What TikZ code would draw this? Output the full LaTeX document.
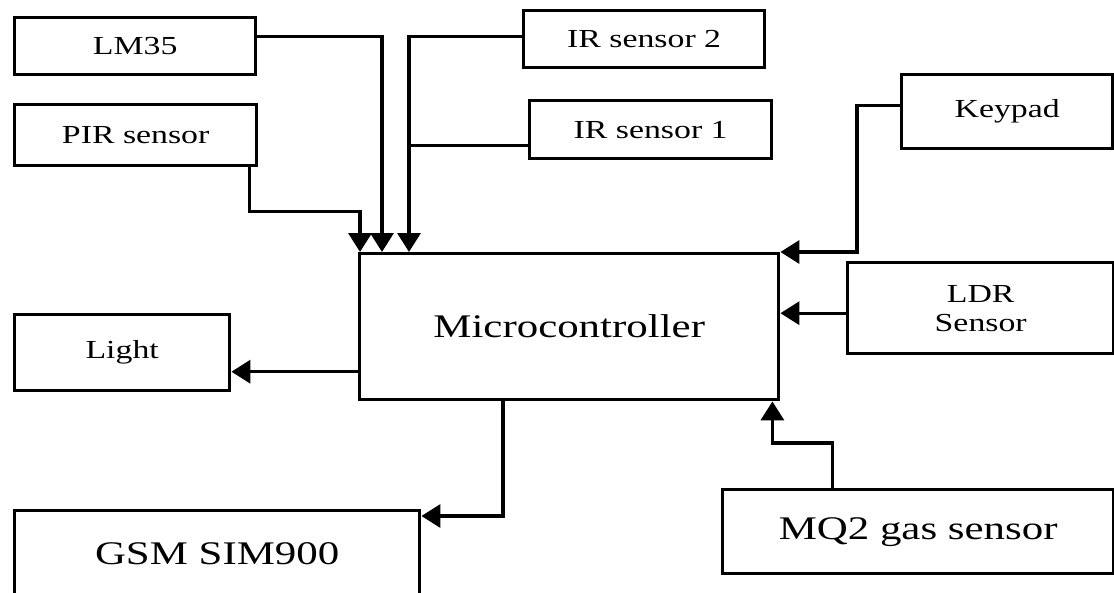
\documentclass[tikz,border=0pt]{standalone}
\usepackage{fontspec}
\setmainfont{Liberation Serif}[FakeStretch=1.3]
\usetikzlibrary{arrows.meta}

\tikzset{
  blk/.style={draw=black, line width=3.4pt, rectangle, anchor=north west,
    inner sep=0pt, align=center, font=\fontsize{26}{29}\selectfont},
  bigblk/.style={blk, font=\fontsize{33}{36}\selectfont},
  wire/.style={line width=3.4pt},
  arr/.style={wire, -{Triangle[length=19pt,width=23pt]}}
}

\begin{document}
\begin{tikzpicture}[x=1pt, y=-1pt]
  \useasboundingbox (0,0) rectangle (1114,592);
  \clip (0,0) rectangle (1114,592);
  \fill[white] (0,0) rectangle (1114,592);

  % blocks
  \node[blk, minimum width=241, minimum height=57] (lm)    at (13,16)   {LM35};
  \node[blk, minimum width=242, minimum height=61] (pir)   at (13,103)  {PIR sensor};
  \node[blk, minimum width=241, minimum height=57] (ir2)   at (522,9)   {IR sensor 2};
  \node[blk, minimum width=242, minimum height=58] (ir1)   at (528,99)  {IR sensor 1};
  \node[blk, minimum width=211, minimum height=74] (kp)    at (900,73)  {Keypad};
  \node[blk, minimum width=266, minimum height=91] (ldr)   at (846,261) {LDR\\Sensor};
  \node[bigblk, minimum width=419, minimum height=146] (mc) at (358,252) {Microcontroller};
  \node[blk, minimum width=215, minimum height=76] (light) at (13,313)  {Light};
  \node[bigblk, minimum width=405, minimum height=86] (gsm) at (13,509) {GSM SIM900};
  \node[bigblk, minimum width=391, minimum height=84] (mq)  at (721,488) {MQ2 gas sensor};

  % junction points on the block borders
  \coordinate (lmout)  at ([yshift=10pt]lm.east);
  \coordinate (pirout) at ([xshift=-9pt]pir.south east);
  \coordinate (ir2out) at ([yshift=3pt]ir2.west);
  \coordinate (ir1out) at ([yshift=-16pt]ir1.west);
  \coordinate (kpout)  at ([yshift=6pt]kp.west);
  \coordinate (ldrout) at ([yshift=-5pt]ldr.west);
  \coordinate (mqout)  at ([xshift=-86pt]mq.north);
  \coordinate (mcl)    at ([yshift=-45pt]mc.west);
  \coordinate (mcg)    at ([xshift=145pt]mc.south west);
  \coordinate (irbus)  at ([xshift=51pt]mc.north west);

  % sensor inputs from above
  \draw[arr] (pirout) -- ++(0,44) -| ([xshift=2pt]mc.north west);
  \draw[arr] (lmout) -| ([xshift=24pt]mc.north west);
  \draw[arr] (ir2out) -| (irbus);
  \draw[wire] (ir1out) -- (ir1out -| irbus);

  % inputs from the right
  \draw[arr] (kpout) -- ++(-43,0) |- (mc.north east);
  \draw[arr] (ldrout) -- (ldrout -| mc.east);
  \draw[arr] (mqout) -- ++(0,-45) -| ([xshift=-8pt]mc.south east);

  % outputs
  \draw[arr] (mcl) -- (mcl -| light.east);
  \draw[arr] (mcg) |- ([yshift=-7pt]gsm.north east);
\end{tikzpicture}
\end{document}
